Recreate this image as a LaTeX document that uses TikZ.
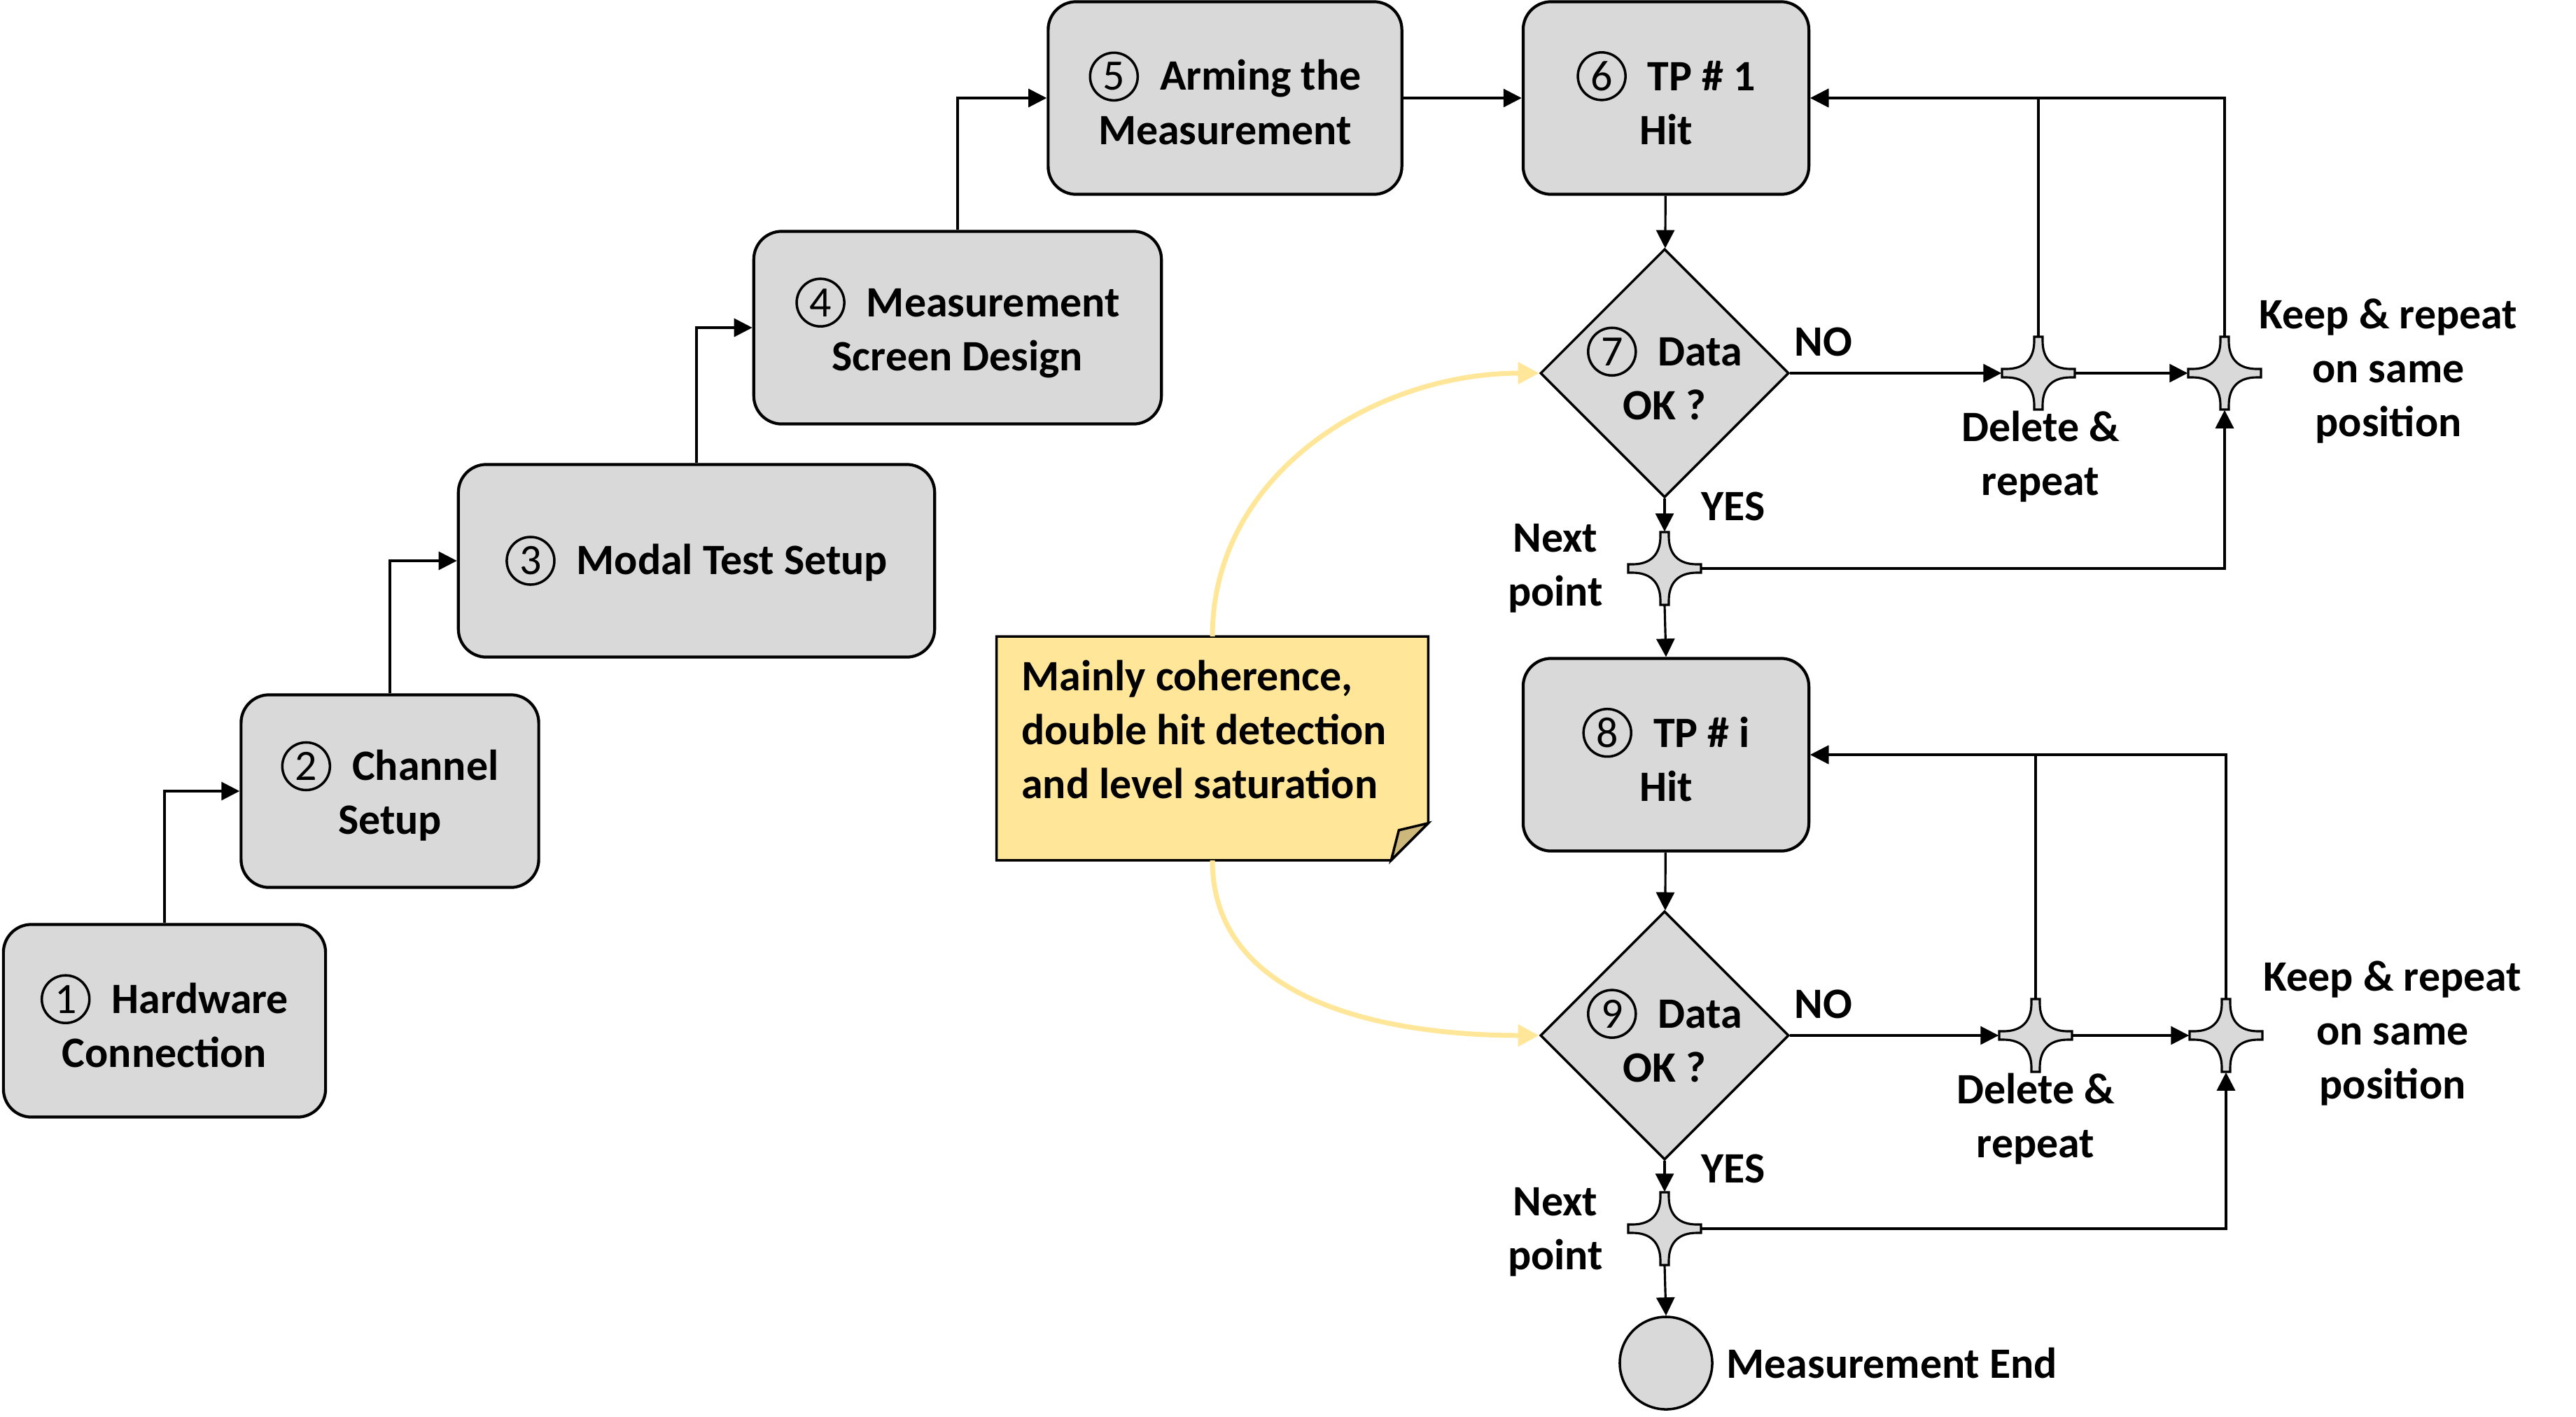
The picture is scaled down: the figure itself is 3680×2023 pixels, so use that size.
\documentclass[tikz,border=0pt]{standalone}
\usepackage{fontspec}
\setmainfont{Carlito}
\usetikzlibrary{arrows.meta,shapes.geometric}
\definecolor{boxgray}{HTML}{D9D9D9}
\definecolor{noteyellow}{HTML}{FFE699}
\definecolor{notefold}{HTML}{CDB87B}
\newcommand\bodyfont{\fontsize{17.6pt}{21.9pt}\selectfont\bfseries}
\newcommand\cnum[1]{\tikz[baseline=(c.base)]\node[circle,draw,fill=none,line width=1pt,minimum size=0.68cm,inner sep=0pt,font=\fontsize{17.6pt}{21.9pt}\selectfont\mdseries](c){#1};\hspace{0.3cm}}
\def\starpath{(-6,-52) -- (6,-52) -- (6,-46) .. controls (6,-20) and (20,-6) .. (46,-6) -- (52,-6) -- (52,6) -- (46,6) .. controls (20,6) and (6,20) .. (6,46) -- (6,52) -- (-6,52) -- (-6,46) .. controls (-6,20) and (-20,6) .. (-46,6) -- (-52,6) -- (-52,-6) -- (-46,-6) .. controls (-20,-6) and (-6,-20) .. (-6,-46) -- cycle}
\begin{document}
\begin{tikzpicture}[x=0.01cm,y=-0.01cm,
  every node/.style={font=\bodyfont},
  stepbox/.style={draw,line width=1.2pt,rounded corners=0.4cm,fill=boxgray,align=center,minimum height=2.75cm,inner sep=0pt},
  check/.style={diamond,draw,line width=1pt,fill=boxgray,aspect=1,minimum width=3.52cm,minimum height=3.52cm,inner sep=0pt,align=center},
  junc/.style={rectangle,minimum size=1.04cm,inner sep=0pt},
  starshape/.style={draw,line width=0.9pt,fill=boxgray},
  link/.style={line width=0.9pt,-{Triangle[length=0.26cm,width=0.26cm]}},
  hintline/.style={line width=0.07cm,draw=noteyellow,-{Triangle[length=0.3cm,width=0.3cm]}},
  lab/.style={align=center,inner sep=0pt}]
\useasboundingbox (0,0) rectangle (3680,2023);

% the set-up staircase
\node[stepbox,minimum width=4.6cm] (n1) at (235,1458) {\cnum{1}Hardware\\Connection};
\node[stepbox,minimum width=4.25cm] (n2) at (557,1130) {\cnum{2}Channel\\Setup};
\node[stepbox,minimum width=6.8cm] (n3) at (995,801) {\cnum{3}Modal Test Setup};
\node[stepbox,minimum width=5.82cm] (n4) at (1368,468) {\cnum{4}Measurement\\Screen Design};
\node[stepbox,minimum width=5.05cm] (n5) at (1750,140) {\cnum{5}Arming the\\Measurement};

% first test point
\node[stepbox,minimum width=4.08cm] (n6) at (2380,140) {\cnum{6}TP \# 1\\Hit};
\node[check] (d7) at (2378,533) {\cnum{7}Data\\OK ?};
\node[junc] (del1) at (2912,533) {};
\node[junc] (keep1) at (3178,533) {};
\node[junc] (nxt1) at (2378,812) {};
\draw[starshape,shift={(del1)}] \starpath;
\draw[starshape,shift={(keep1)}] \starpath;
\draw[starshape,shift={(nxt1)}] \starpath;
\node[lab] (no1) at (2605,488) {NO};
\node[lab] (yes1) at (2476,723) {YES};
\node[lab] (dellab1) at (2915,652) {Delete \&\\repeat};
\node[lab] (keeplab1) at (3412,530) {Keep \& repeat\\on same\\position};
\node[lab] (nxtlab1) at (2222,812) {Next\\point};

% test point i
\node[stepbox,minimum width=4.08cm] (n8) at (2380,1078) {\cnum{8}TP \# i\\Hit};
\node[check] (d9) at (2378,1479) {\cnum{9}Data\\OK ?};
\node[junc] (del2) at (2908,1479) {};
\node[junc] (keep2) at (3180,1479) {};
\node[junc] (nxt2) at (2378,1755) {};
\draw[starshape,shift={(del2)}] \starpath;
\draw[starshape,shift={(keep2)}] \starpath;
\draw[starshape,shift={(nxt2)}] \starpath;
\node[lab] (no2) at (2605,1434) {NO};
\node[lab] (yes2) at (2476,1669) {YES};
\node[lab] (dellab2) at (2908,1598) {Delete \&\\repeat};
\node[lab] (keeplab2) at (3418,1476) {Keep \& repeat\\on same\\position};
\node[lab] (nxtlab2) at (2222,1760) {Next\\point};

\node[circle,draw,line width=1pt,fill=boxgray,minimum size=1.32cm,inner sep=0pt] (fin) at (2380,1947) {};
\node[right,inner sep=0.18cm] (finlab) at (fin.east) {Measurement End};

% note
\node[minimum width=6.15cm,minimum height=3.18cm,inner sep=0pt] (hint) at (1732,1069) {};
\draw[line width=1pt,fill=noteyellow] (hint.north west) -- (hint.north east) -- ([yshift=0.53cm]hint.south east) -- ([xshift=-0.53cm]hint.south east) -- (hint.south west) -- cycle;
\draw[line width=1pt,fill=notefold] ([xshift=-0.53cm]hint.south east) -- ([yshift=0.53cm]hint.south east) -- ([xshift=-0.42cm,yshift=0.43cm]hint.south east) -- cycle;
\node[anchor=north west,align=left,inner sep=0pt] (hinttext) at ([xshift=0.35cm,yshift=-0.33cm]hint.north west) {Mainly coherence,\\double hit detection\\and level saturation};
\draw[hintline] (hint.north) to[out=90,in=180] (d7.west);
\draw[hintline] (hint.south) to[out=-90,in=180] (d9.west);

% connectors
\draw[link] (n1.north) |- (n2.west);
\draw[link] (n2.north) |- (n3.west);
\draw[link] (n3.north) |- (n4.west);
\draw[link] (n4.north) |- (n5.west);
\draw[link] (n5) -- (n6);
\draw[link] (n6) -- (d7);
\draw[link] (d7.east) -- (del1.west);
\draw[link] (del1.east) -- (keep1.west);
\draw[link] (del1.north) |- (n6.east);
\draw[link] (keep1.north) |- (n6.east);
\draw[link] (d7.south) -- (nxt1.north);
\draw[link] (nxt1.east) -| (keep1.south);
\draw[link] (nxt1.south) -- (n8.north);
\draw[link] (n8) -- (d9);
\draw[link] (d9.east) -- (del2.west);
\draw[link] (del2.east) -- (keep2.west);
\draw[link] (del2.north) |- (n8.east);
\draw[link] (keep2.north) |- (n8.east);
\draw[link] (d9.south) -- (nxt2.north);
\draw[link] (nxt2.east) -| (keep2.south);
\draw[link] (nxt2.south) -- (fin.north);
\end{tikzpicture}
\end{document}
